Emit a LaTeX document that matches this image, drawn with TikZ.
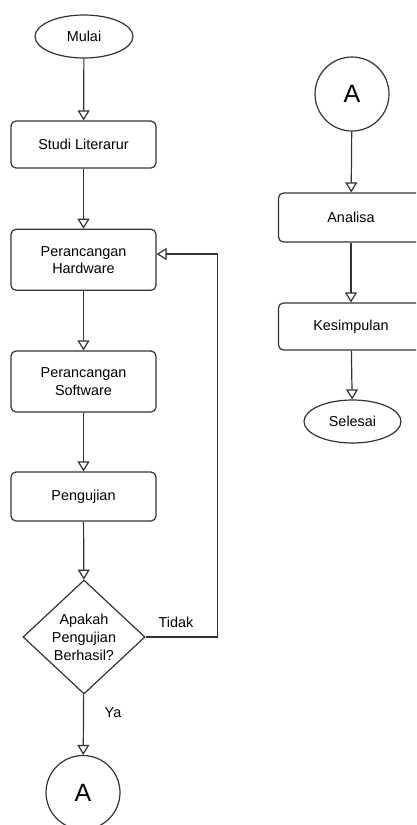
\documentclass[tikz,border=0pt]{standalone}
\usepackage{fontspec}
\setmainfont{Liberation Sans}
\usetikzlibrary{arrows.meta,shapes.geometric}
\definecolor{ln}{HTML}{333333}
\tikzset{
  every node/.style={font=\fontsize{14.4}{17.3}\selectfont, text=black},
  proc/.style={draw=ln, line width=1.2pt, rounded corners=5pt, minimum width=145pt, align=center, inner sep=0pt},
  term/.style={draw=ln, line width=1.2pt, ellipse, minimum width=98pt, minimum height=43pt, inner sep=0pt},
  conn/.style={draw=ln, line width=1.2pt, circle, minimum size=74pt, inner sep=0pt, font=\fontsize{25}{30}\selectfont},
  dec/.style={draw=ln, line width=1.2pt, diamond, minimum width=122pt, minimum height=114pt, inner sep=0pt, align=center, font=\fontsize{14.4}{18}\selectfont},
  flow/.style={draw=ln, line width=1.2pt, -{Triangle[open, width=12pt, length=10pt]}},
  lbl/.style={font=\fontsize{14.4}{17.3}\selectfont}
}
\begin{document}
\begin{tikzpicture}[x=1pt, y=-1pt]
\useasboundingbox (0,0) rectangle (416,825);
\begin{scope}
\clip (0,0) rectangle (416,825);
\node[term] (mulai) at (84,36.5) {Mulai};
\node[proc, minimum height=47pt] (studi) at (83.5,144.5) {Studi Literarur};
\node[proc, minimum height=61pt] (hw) at (83.5,259.8) {Perancangan\\Hardware};
\node[proc, minimum height=61pt] (sw) at (83.5,381.5) {Perancangan\\Software};
\node[proc, minimum height=49pt] (uji) at (83.5,496.5) {Pengujian};
\node[dec] (cek) at (84,637) {Apakah\\Pengujian\\Berhasil?};
\node[conn] (a1) at (83,792.5) {A};

\node[conn] (a2) at (352,94) {A};
\node[proc, minimum height=49pt] (ana) at (351,217.5) {Analisa};
\node[proc, minimum height=47pt] (kes) at (351,326.5) {Kesimpulan};
\node[term, minimum width=97pt] (sel) at (352.5,421.5) {Selesai};

\coordinate (turn) at (217.7,637);
\draw[flow] (mulai) -- (studi);
\draw[flow] (studi) -- (hw);
\draw[flow] (hw) -- (sw);
\draw[flow] (sw) -- (uji);
\draw[flow] (uji) -- (cek);
\draw[flow] (cek) -- (a1);
\node[lbl] (ya) at (113,713) {Ya};
\draw[flow] (cek.east) -- (turn) |- ([yshift=5.8pt]hw.east);
\node[lbl] (tidak) at (176,622) {Tidak};

\draw[flow] (a2) -- (ana);
\draw[flow] (ana) -- (kes);
\draw[flow] (kes) -- (sel);
\end{scope}
\end{tikzpicture}
\end{document}
